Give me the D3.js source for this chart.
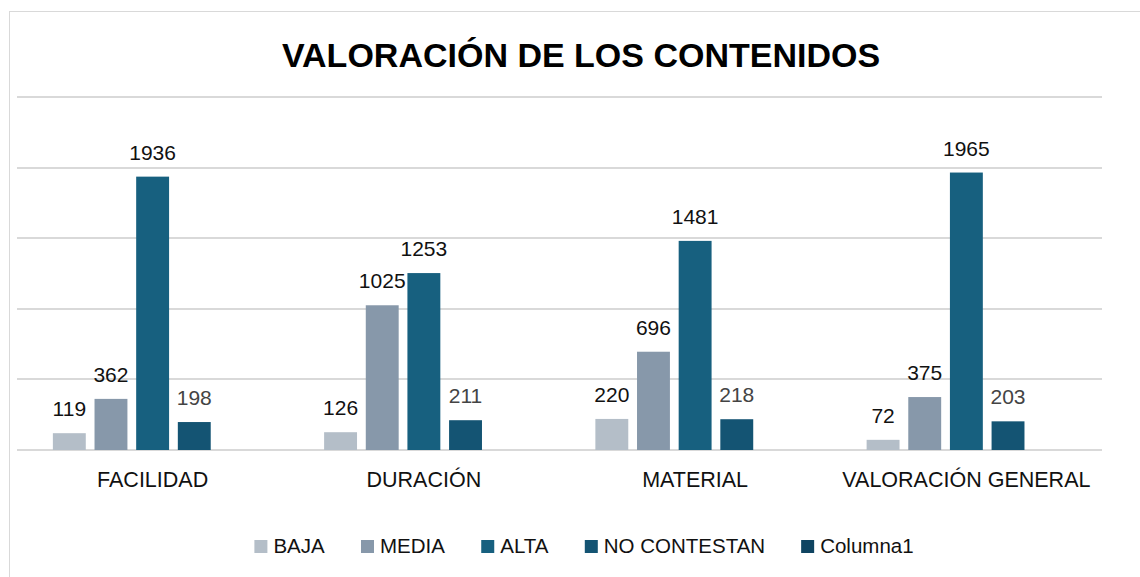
<!DOCTYPE html>
<html>
<head>
<meta charset="utf-8">
<script src="https://cdn.jsdelivr.net/npm/d3@7"></script>
<style>
  body { margin: 0; background: #fff; }
  svg { display: block; font-family: "Liberation Sans", Arial, sans-serif; }
</style>
</head>
<body>
<svg width="1140" height="577"></svg>
<script>
// datos del gráfico
var categories = ["FACILIDAD", "DURACIÓN", "MATERIAL", "VALORACIÓN GENERAL"];
var seriesNames = ["BAJA", "MEDIA", "ALTA", "NO CONTESTAN", "Columna1"];
var baja = [119, 126, 220, 72];
var media = [362, 1025, 696, 375];
var alta = [1936, 1253, 1481, 1965];
var noContestan = [198, 211, 218, 203];
var columna1 = [null, null, null, null];
var yTicks = [0, 500, 1000, 1500, 2000, 2500];

var colors = ["#b4bec8", "#8798aa", "#17607f", "#145473", "#0f4461"];
var labelColors = ["#111", "#111", "#111", "#444", "#444"];
var seriesValues = [baja, media, alta, noContestan, columna1];

var svg = d3.select("svg");

// borde del gráfico
svg.append("rect")
  .attr("x", 9.5).attr("y", 11.5)
  .attr("width", 1140).attr("height", 580)
  .attr("fill", "#fff")
  .attr("stroke", "#d9d9d9")
  .attr("stroke-width", 1);

// título
svg.append("text")
  .attr("x", 581).attr("y", 67)
  .attr("text-anchor", "middle")
  .attr("font-size", 34)
  .attr("font-weight", "bold")
  .attr("fill", "#000")
  .text("VALORACIÓN DE LOS CONTENIDOS");

var plotLeft = 17, plotRight = 1102, plotTop = 97, plotBottom = 450;

var x0 = d3.scaleBand()
  .domain(categories)
  .range([plotLeft, plotRight])
  .paddingInner(0.2645)
  .paddingOuter(0.13225);

var x1 = d3.scaleBand()
  .domain(seriesNames)
  .range([0, x0.bandwidth()])
  .paddingInner(0.21)
  .paddingOuter(0);

var y = d3.scaleLinear()
  .domain([0, 2500])
  .range([plotBottom, plotTop]);

// líneas de cuadrícula
svg.append("g")
  .selectAll("line")
  .data(yTicks)
  .enter()
  .append("line")
  .attr("x1", plotLeft).attr("x2", plotRight)
  .attr("y1", function(d) { return Math.round(y(d)); })
  .attr("y2", function(d) { return Math.round(y(d)); })
  .attr("stroke", "#d9d9d9")
  .attr("stroke-width", 2);

// barras
var bars = [];
seriesNames.forEach(function(s, si) {
  categories.forEach(function(c, ci) {
    var v = seriesValues[si][ci];
    if (v != null) bars.push({ series: s, si: si, cat: c, value: v });
  });
});

var g = svg.append("g");
g.selectAll("rect")
  .data(bars)
  .enter()
  .append("rect")
  .attr("x", function(d) { return x0(d.cat) + x1(d.series); })
  .attr("y", function(d) { return y(d.value); })
  .attr("width", x1.bandwidth())
  .attr("height", function(d) { return plotBottom - y(d.value); })
  .attr("fill", function(d) { return colors[d.si]; });

// etiquetas de datos
g.selectAll("text")
  .data(bars)
  .enter()
  .append("text")
  .attr("x", function(d) { return x0(d.cat) + x1(d.series) + x1.bandwidth() / 2; })
  .attr("y", function(d) { return y(d.value) - 17; })
  .attr("text-anchor", "middle")
  .attr("font-size", 21)
  .attr("fill", function(d) { return labelColors[d.si]; })
  .text(function(d) { return d.value; });

// eje x (solo etiquetas)
svg.append("g")
  .selectAll("text")
  .data(categories)
  .enter()
  .append("text")
  .attr("x", function(d) { return x0(d) + x0.bandwidth() / 2; })
  .attr("y", 487)
  .attr("text-anchor", "middle")
  .attr("font-size", 21.5)
  .attr("fill", "#111")
  .text(function(d) { return d; });

// leyenda
var legend = svg.append("g");
var items = legend.selectAll("g")
  .data(seriesNames)
  .enter()
  .append("g");
items.append("rect")
  .attr("width", 13).attr("height", 13)
  .attr("y", -13)
  .attr("fill", function(d, i) { return colors[i]; });
items.append("text")
  .attr("x", 19)
  .attr("y", 0)
  .attr("font-size", 20.5)
  .attr("fill", "#111")
  .text(function(d) { return d; });

var widths = [];
items.each(function() { widths.push(this.getBBox().width); });
var gap = 36;
var total = d3.sum(widths) + gap * (widths.length - 1);
var startX = 584 - total / 2;
var pos = 0;
items.attr("transform", function(d, i) {
  var xx = startX + pos;
  pos += widths[i] + gap;
  return "translate(" + xx + ",553)";
});
</script>
</body>
</html>
